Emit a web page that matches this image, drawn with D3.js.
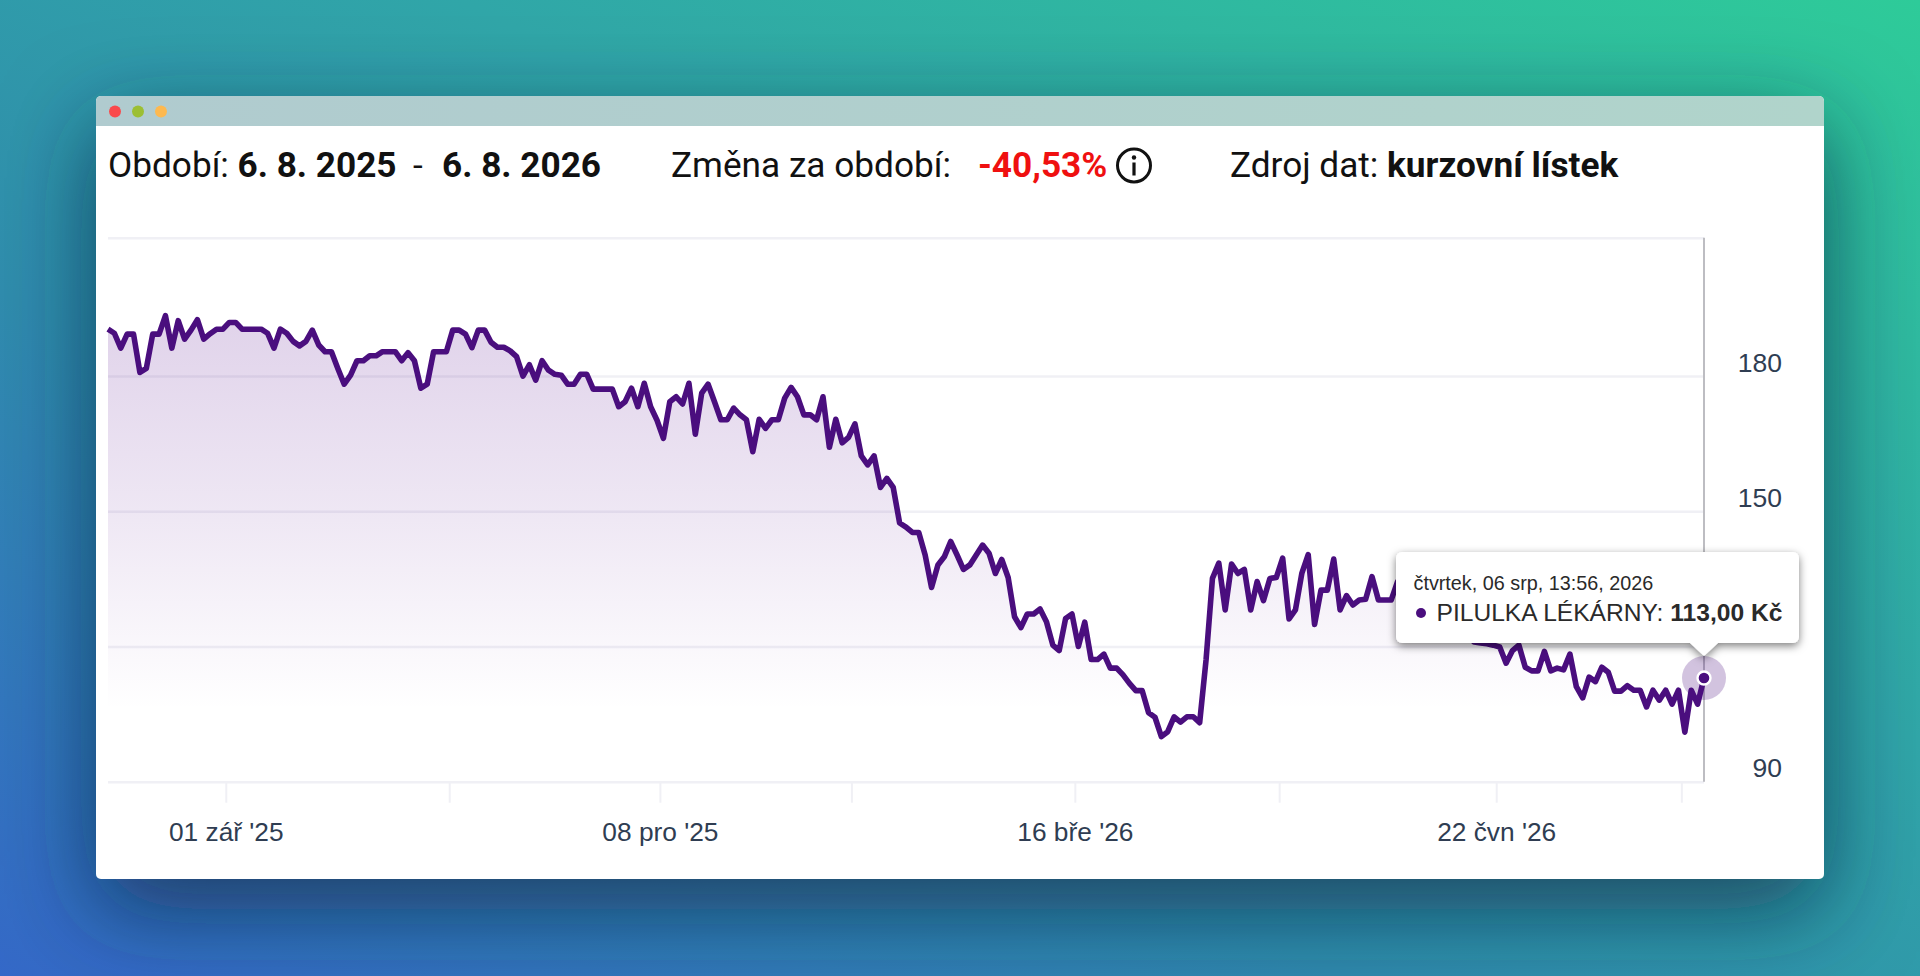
<!DOCTYPE html>
<html lang="cs">
<head>
<meta charset="utf-8">
<title>PILULKA LÉKÁRNY</title>
<script src="https://cdn.jsdelivr.net/npm/d3@7"></script>
<style>
html,body{margin:0;padding:0;width:1920px;height:976px;overflow:hidden;background:linear-gradient(to top right,#3468c8 0%,#2f8cad 35%,#30a6a8 62%,#2ecb99 100%);}
svg{position:absolute;left:0;top:0;display:block;}
</style>
</head>
<body>
<svg id="chart" width="1920" height="976"></svg>
<script>
const prices = [
190.4,189.5,186.2,189.3,189.3,180.8,181.7,189.3,189.3,193.4,
186.2,192.3,188.2,190.2,192.5,188.2,189.4,190.4,190.4,191.9,
191.9,190.4,190.4,190.4,190.4,189.5,186.2,190.4,189.5,187.7,
186.7,187.7,190.2,186.9,185.4,185.4,181.7,178.2,180.2,183.4,
183.4,184.5,184.5,185.4,185.4,185.4,183.4,185.2,183.4,177.3,
178.2,185.4,185.4,185.4,190.2,190.2,189.3,186.3,190.2,190.2,
187.5,186.4,186.4,185.6,184.3,180.0,182.5,179.1,183.4,181.3,
180.4,180.2,178.2,178.2,180.4,180.4,177.1,177.1,177.1,177.1,
173.2,174.3,177.3,173.2,178.4,173.2,170.2,166.2,174.3,175.4,
173.8,178.4,167.1,176.2,178.2,174.3,170.3,170.3,172.9,171.4,
170.3,163.2,170.4,168.4,170.3,170.3,175.1,177.5,175.4,171.4,
171.4,170.3,175.4,164.2,170.4,165.2,166.4,169.4,162.3,160.3,
162.3,155.3,157.3,155.3,147.4,146.5,145.3,145.3,140.3,133.1,
138.1,139.9,143.3,140.3,137.1,138.1,140.3,142.5,140.7,136.2,
139.3,135.3,126.6,124.2,127.2,127.2,128.3,125.5,120.3,119.1,
126.2,127.2,120.0,125.4,117.1,117.1,118.3,115.2,115.2,113.7,
111.8,110.2,110.2,105.3,104.3,100.0,101.1,104.4,103.2,104.4,
104.4,103.1,117.0,135.1,138.5,128.1,138.3,136.2,137.1,128.1,
134.4,130.2,135.1,135.3,139.6,126.1,128.1,136.2,140.4,124.9,
132.5,132.5,139.4,128.1,131.3,129.2,130.3,130.5,135.5,130.3,
130.3,130.3,134.4,133.6,132.5,132.5,130.3,129.2,128.1,127.0,
125.9,124.8,123.7,122.5,121.0,120.8,120.6,120.3,119.9,116.3,
119.1,120.3,115.4,114.6,114.6,118.9,114.6,115.2,114.8,118.3,
111.1,108.6,113.2,112.2,115.4,114.3,110.1,110.1,111.3,110.3,
110.3,106.6,110.3,108.1,110.3,107.2,110.3,101.0,110.3,107.2,
113.0];
const sessions = prices.map((_, i) => i);
const tickSessions = [18,53,86,116,151,183,217,246];
const tickLabels = ["01 zář '25","","08 pro '25","","16 bře '26","","22 čvn '26",""];
const priceTicks = [90,120,150,180];
const priceTop = 210.7;
const seriesName = "PILULKA LÉKÁRNY";
const tooltipDate = "čtvrtek, 06 srp, 13:56, 2026";
const tooltipValue = "113,00 Kč";

const purple = "#4a0e7e", grid = "#f0f0f5", axisText = "#2f3d52";
const svg = d3.select("#chart");
const x = d3.scaleLinear().domain([0, sessions.length - 1]).range([108, 1704]);
const y = d3.scaleLinear().domain([90, priceTop]).range([781.7, 237.7]);
const tickShift = (x(1) - x(0)) * 0.45;

const defs = svg.append("defs");
const ag = defs.append("linearGradient").attr("id","areaFill").attr("gradientUnits","userSpaceOnUse")
  .attr("x1",0).attr("x2",0).attr("y1",320).attr("y2",710);
ag.append("stop").attr("offset",0).attr("stop-color","#5a1290").attr("stop-opacity",.185);
ag.append("stop").attr("offset",.5).attr("stop-color","#5a1290").attr("stop-opacity",.10);
ag.append("stop").attr("offset",1).attr("stop-color","#5a1290").attr("stop-opacity",0);
const tg = defs.append("linearGradient").attr("id","titleFill").attr("x1",0).attr("x2",1);
tg.append("stop").attr("offset",0).attr("stop-color","#b0cbcf");
tg.append("stop").attr("offset",1).attr("stop-color","#b0d4cb");
const sh = defs.append("filter").attr("id","winShadow").attr("x","-20%").attr("y","-20%").attr("width","140%").attr("height","160%");
sh.append("feDropShadow").attr("dx",0).attr("dy",30).attr("stdDeviation",46).attr("flood-color","#0b2a44").attr("flood-opacity",.72);
const ts = defs.append("filter").attr("id","tipShadow").attr("x","-10%").attr("y","-20%").attr("width","120%").attr("height","150%");
ts.append("feDropShadow").attr("dx",0).attr("dy",3).attr("stdDeviation",4).attr("flood-color","#000").attr("flood-opacity",.5);

// window frame
svg.append("rect").attr("x",96).attr("y",96).attr("width",1728).attr("height",783).attr("rx",5).attr("fill","#fff").attr("filter","url(#winShadow)");
svg.append("path").attr("d","M96 126V101a5 5 0 0 1 5-5H1819a5 5 0 0 1 5 5V126Z").attr("fill","url(#titleFill)");
[[115,"#f94a4c"],[138,"#9cbf33"],[161,"#fdb950"]].forEach(([cx,c]) =>
  svg.append("circle").attr("cx",cx).attr("cy",111.5).attr("r",6).attr("fill",c));

// header
const head = svg.append("g").attr("font-family","Roboto, sans-serif").attr("font-size",35.2).attr("fill","#111");
const hText = (tx, s, w, col) => head.append("text").attr("x",tx).attr("y",177).attr("font-weight",w||400).attr("fill",col||"#111").text(s);
hText(108,"Období:");
hText(237.5,"6. 8. 2025",700);
hText(413,"-");
hText(442,"6. 8. 2026",700);
hText(671,"Změna za období:");
hText(978,"-40,53%",700,"#ef1010");
hText(1230,"Zdroj dat:");
hText(1387,"kurzovní lístek",700);
const info = svg.append("g").attr("transform","translate(1134,165.5)");
info.append("circle").attr("r",16.5).attr("fill","none").attr("stroke","#111").attr("stroke-width",3);
info.append("circle").attr("cy",-8).attr("r",2.2).attr("fill","#111");
info.append("rect").attr("x",-1.6).attr("y",-3).attr("width",3.2).attr("height",13).attr("fill","#111");

// axes
const yAxis = d3.axisRight(y).tickValues(priceTicks.concat([priceTop])).tickSize(x.range()[0] - x.range()[1]).tickFormat(d => priceTicks.includes(d) ? d : "");
const yG = svg.append("g").attr("transform",`translate(${x.range()[1]},0)`).call(yAxis);
yG.select(".domain").remove();
yG.selectAll("line").attr("stroke",grid).attr("stroke-width",2.4);
yG.selectAll("text").attr("font-family","'Liberation Sans', Arial, sans-serif").attr("font-size",26.5).attr("fill",axisText)
  .attr("text-anchor","end").attr("x",78).attr("dy",0).attr("y",-5).attr("dominant-baseline","auto");

const xAxis = d3.axisBottom(x).tickValues(tickSessions).tickSize(21).tickPadding(20)
  .tickFormat(d => tickLabels[tickSessions.indexOf(d)]);
const xG = svg.append("g").attr("transform",`translate(${tickShift},${y(90)})`).call(xAxis);
xG.select(".domain").remove();
xG.selectAll("line").attr("stroke",grid).attr("stroke-width",2);
xG.selectAll("text").attr("font-family","'Liberation Sans', Arial, sans-serif").attr("font-size",26.3).attr("fill",axisText);

// series
const area = d3.area().x((d,i) => x(sessions[i])).y0(y(90)).y1(d => y(d));
const line = d3.line().x((d,i) => x(sessions[i])).y(d => y(d));
svg.append("path").datum(prices).attr("d",area).attr("fill","url(#areaFill)");
svg.append("line").attr("x1",x.range()[1]).attr("x2",x.range()[1]).attr("y1",y(priceTop)).attr("y2",y(90)).attr("stroke","#bdbdc2").attr("stroke-width",2);
svg.append("path").datum(prices).attr("d",line).attr("fill","none").attr("stroke",purple).attr("stroke-width",5.6).attr("stroke-linejoin","round");

// hovered point
const lastX = x(sessions[sessions.length-1]), lastY = y(prices[prices.length-1]);
svg.append("circle").attr("cx",lastX).attr("cy",lastY).attr("r",22).attr("fill",purple).attr("fill-opacity",.25);
svg.append("circle").attr("cx",lastX).attr("cy",lastY).attr("r",6.5).attr("fill",purple).attr("stroke","#fff").attr("stroke-width",2.4);

// tooltip
const tip = svg.append("g").attr("filter","url(#tipShadow)");
const tl=1396,tr=1799,tt=552,tb=643,r=6;
tip.append("path").attr("fill","#fff").attr("d",
 `M${tl+r} ${tt}H${tr-r}a${r} ${r} 0 0 1 ${r} ${r}V${tb-r}a${r} ${r} 0 0 1 ${-r} ${r}H${lastX+14}L${lastX} ${tb+13}L${lastX-14} ${tb}H${tl+r}a${r} ${r} 0 0 1 ${-r} ${-r}V${tt+r}a${r} ${r} 0 0 1 ${r} ${-r}Z`);
const tipG = svg.append("g").attr("font-family","'Liberation Sans', Arial, sans-serif").attr("fill","#2a2a2a");
tipG.append("text").attr("x",1413.5).attr("y",589.5).attr("font-size",19.8).text(tooltipDate);
tipG.append("circle").attr("cx",1421).attr("cy",613).attr("r",5).attr("fill",purple);
const t2 = tipG.append("text").attr("x",1436.5).attr("y",621).attr("font-size",24.6);
t2.append("tspan").text(seriesName + ": ");
t2.append("tspan").attr("font-weight",700).text(tooltipValue);
</script>
</body>
</html>
